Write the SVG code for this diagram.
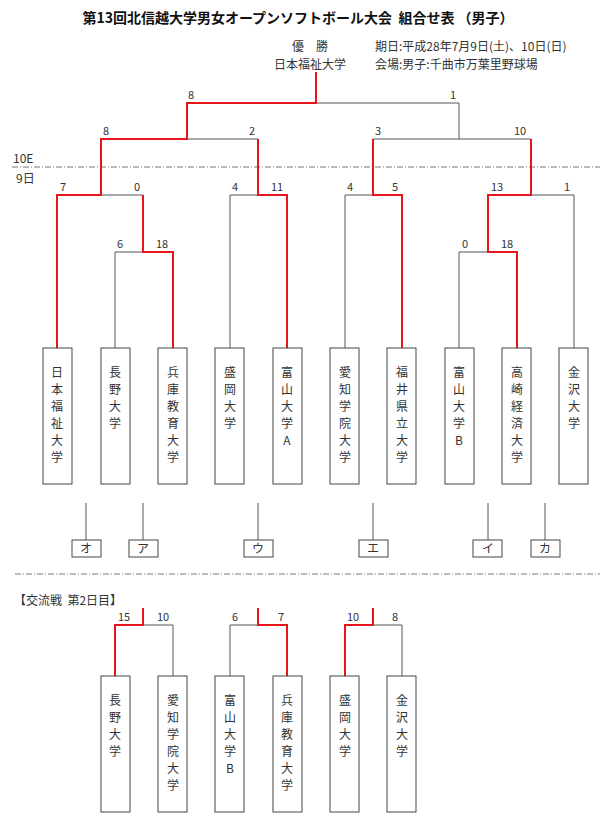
<svg xmlns="http://www.w3.org/2000/svg" width="600" height="830" viewBox="0 0 600 830">
<style>
text{font-family:"Noto Sans CJK JP","DejaVu Sans",sans-serif;fill:#333;font-size:12px;white-space:pre}
.t{font-size:14px;font-weight:bold;fill:#111}
.s{text-anchor:middle;font-size:11px}
.v{text-anchor:middle}
.g{fill:none;stroke:#555;stroke-width:1}
.r{fill:none;stroke:#e8141b;stroke-width:2}
.b{fill:#fff;stroke:#444;stroke-width:1}
.d{stroke:#777;stroke-dasharray:6,2,1,2;stroke-width:1}
</style>
<rect width="600" height="830" fill="#fff"/>
<text class="t" x="298" y="23" text-anchor="middle">第13回北信越大学男女オープンソフトボール大会  組合せ表 （男子）</text>
<text x="310" y="51" text-anchor="middle">優　勝</text>
<text x="310" y="69" text-anchor="middle">日本福祉大学</text>
<text x="375" y="51">期日:平成28年7月9日(土)、10日(日)</text>
<text x="375" y="69">会場:男子:千曲市万葉里野球場</text>
<line class="d" x1="12" y1="167" x2="600" y2="167"/>
<text x="13" y="163">10E</text>
<text x="16" y="183">9日</text>
<g id="connectors">
<path class="g" d="M316 103H459V139M459 139H373M459 139H531M101 139H258M230 348V195H258M345 348V195H373M488 195H574V348M115 348V252H143M459 348V252H488M143 195V252M57 195H143"/>
<path class="r" d="M316 72V103H187V139H101V195H57V348M258 139V195H287V348M373 139V195H402V348M531 139V195H488V252H517V348M143 195V252H173V348"/>
<path class="g" d="M86 503V540M143 503V540M258 503V540M373 503V540M488 503V540M545 503V540"/>
<path class="g" d="M143 625H173V676M230 676V625H258M402 676V625H373"/>
<path class="r" d="M143 608V625H115V676M258 608V625H287V676M373 608V625H345V676"/>
</g>
<g id="scores" class="s">
<text class="s" x="191" y="99">8</text><text class="s" x="453" y="99">1</text>
<text class="s" x="106" y="135">8</text><text class="s" x="252" y="135">2</text><text class="s" x="378" y="135">3</text><text class="s" x="520" y="135">10</text>
<text class="s" x="63" y="191">7</text><text class="s" x="137" y="191">0</text><text class="s" x="235" y="191">4</text><text class="s" x="277" y="191">11</text><text class="s" x="350" y="191">4</text><text class="s" x="395" y="191">5</text><text class="s" x="497" y="191">13</text><text class="s" x="567" y="191">1</text>
<text class="s" x="120" y="248">6</text><text class="s" x="162" y="248">18</text><text class="s" x="465" y="248">0</text><text class="s" x="507" y="248">18</text>
<text class="s" x="124" y="621">15</text><text class="s" x="163" y="621">10</text><text class="s" x="235" y="621">6</text><text class="s" x="281" y="621">7</text><text class="s" x="353" y="621">10</text><text class="s" x="395" y="621">8</text>
</g>
<g id="n1"><rect class="b" x="43" y="348" width="29" height="136"/><text class="v" x="57" y="377">日</text><text class="v" x="57" y="394">本</text><text class="v" x="57" y="411">福</text><text class="v" x="57" y="428">祉</text><text class="v" x="57" y="445">大</text><text class="v" x="57" y="462">学</text></g>
<g id="n2"><rect class="b" x="101" y="348" width="29" height="136"/><text class="v" x="115" y="377">長</text><text class="v" x="115" y="394">野</text><text class="v" x="115" y="411">大</text><text class="v" x="115" y="428">学</text></g>
<g id="n3"><rect class="b" x="158" y="348" width="29" height="136"/><text class="v" x="173" y="377">兵</text><text class="v" x="173" y="394">庫</text><text class="v" x="173" y="411">教</text><text class="v" x="173" y="428">育</text><text class="v" x="173" y="445">大</text><text class="v" x="173" y="462">学</text></g>
<g id="n4"><rect class="b" x="215" y="348" width="29" height="136"/><text class="v" x="230" y="377">盛</text><text class="v" x="230" y="394">岡</text><text class="v" x="230" y="411">大</text><text class="v" x="230" y="428">学</text></g>
<g id="n5"><rect class="b" x="273" y="348" width="29" height="136"/><text class="v" x="287" y="377">富</text><text class="v" x="287" y="394">山</text><text class="v" x="287" y="411">大</text><text class="v" x="287" y="428">学</text><text class="v" x="287" y="445">A</text></g>
<g id="n6"><rect class="b" x="330" y="348" width="29" height="136"/><text class="v" x="345" y="377">愛</text><text class="v" x="345" y="394">知</text><text class="v" x="345" y="411">学</text><text class="v" x="345" y="428">院</text><text class="v" x="345" y="445">大</text><text class="v" x="345" y="462">学</text></g>
<g id="n7"><rect class="b" x="387" y="348" width="29" height="136"/><text class="v" x="402" y="377">福</text><text class="v" x="402" y="394">井</text><text class="v" x="402" y="411">県</text><text class="v" x="402" y="428">立</text><text class="v" x="402" y="445">大</text><text class="v" x="402" y="462">学</text></g>
<g id="n8"><rect class="b" x="445" y="348" width="29" height="136"/><text class="v" x="459" y="377">富</text><text class="v" x="459" y="394">山</text><text class="v" x="459" y="411">大</text><text class="v" x="459" y="428">学</text><text class="v" x="459" y="445">B</text></g>
<g id="n9"><rect class="b" x="502" y="348" width="29" height="136"/><text class="v" x="517" y="377">高</text><text class="v" x="517" y="394">崎</text><text class="v" x="517" y="411">経</text><text class="v" x="517" y="428">済</text><text class="v" x="517" y="445">大</text><text class="v" x="517" y="462">学</text></g>
<g id="n10"><rect class="b" x="559" y="348" width="29" height="136"/><text class="v" x="574" y="377">金</text><text class="v" x="574" y="394">沢</text><text class="v" x="574" y="411">大</text><text class="v" x="574" y="428">学</text></g>
<g id="k1"><rect class="b" x="72" y="540" width="29" height="17"/><text class="v" x="86" y="553">オ</text></g>
<g id="k2"><rect class="b" x="129" y="540" width="29" height="17"/><text class="v" x="143" y="553">ア</text></g>
<g id="k3"><rect class="b" x="244" y="540" width="29" height="17"/><text class="v" x="258" y="553">ウ</text></g>
<g id="k4"><rect class="b" x="359" y="540" width="29" height="17"/><text class="v" x="373" y="553">エ</text></g>
<g id="k5"><rect class="b" x="473" y="540" width="29" height="17"/><text class="v" x="488" y="553">イ</text></g>
<g id="k6"><rect class="b" x="531" y="540" width="29" height="17"/><text class="v" x="545" y="553">カ</text></g>
<line class="d" x1="15" y1="574" x2="600" y2="574"/>
<text x="14" y="605">【交流戦  第2日目】</text>
<g id="m1"><rect class="b" x="101" y="676" width="29" height="136"/><text class="v" x="115" y="705">長</text><text class="v" x="115" y="722">野</text><text class="v" x="115" y="739">大</text><text class="v" x="115" y="756">学</text></g>
<g id="m2"><rect class="b" x="158" y="676" width="29" height="136"/><text class="v" x="173" y="705">愛</text><text class="v" x="173" y="722">知</text><text class="v" x="173" y="739">学</text><text class="v" x="173" y="756">院</text><text class="v" x="173" y="773">大</text><text class="v" x="173" y="790">学</text></g>
<g id="m3"><rect class="b" x="215" y="676" width="29" height="136"/><text class="v" x="230" y="705">富</text><text class="v" x="230" y="722">山</text><text class="v" x="230" y="739">大</text><text class="v" x="230" y="756">学</text><text class="v" x="230" y="773">B</text></g>
<g id="m4"><rect class="b" x="273" y="676" width="29" height="136"/><text class="v" x="287" y="705">兵</text><text class="v" x="287" y="722">庫</text><text class="v" x="287" y="739">教</text><text class="v" x="287" y="756">育</text><text class="v" x="287" y="773">大</text><text class="v" x="287" y="790">学</text></g>
<g id="m5"><rect class="b" x="330" y="676" width="29" height="136"/><text class="v" x="345" y="705">盛</text><text class="v" x="345" y="722">岡</text><text class="v" x="345" y="739">大</text><text class="v" x="345" y="756">学</text></g>
<g id="m6"><rect class="b" x="387" y="676" width="29" height="136"/><text class="v" x="402" y="705">金</text><text class="v" x="402" y="722">沢</text><text class="v" x="402" y="739">大</text><text class="v" x="402" y="756">学</text></g>
</svg>
